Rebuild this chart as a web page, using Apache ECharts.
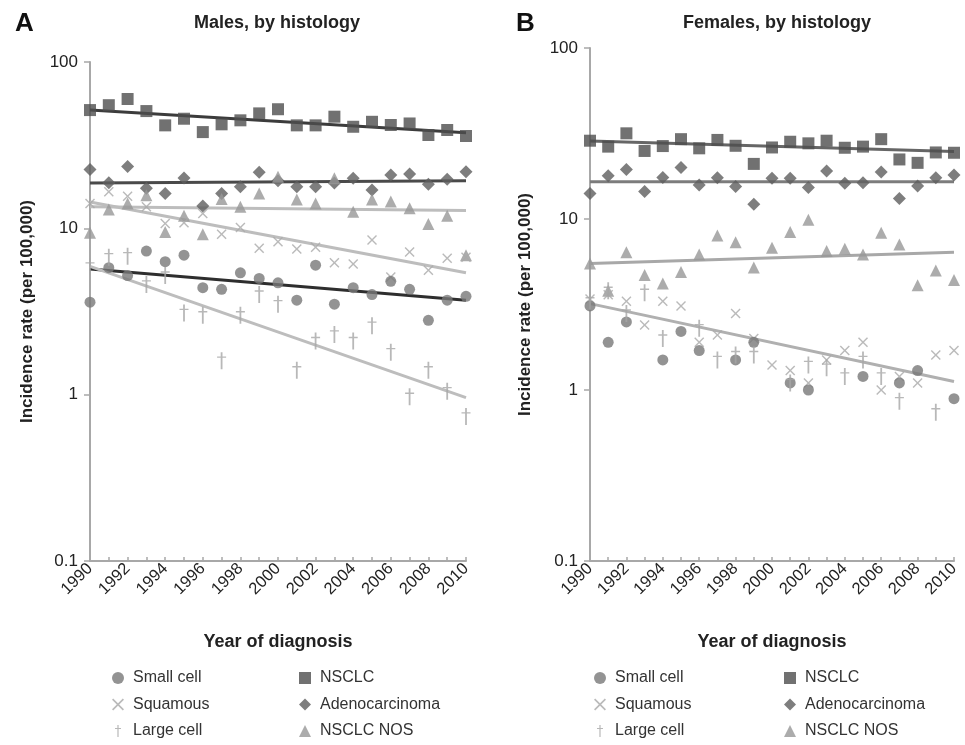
<!DOCTYPE html>
<html>
<head>
<meta charset="utf-8">
<script src="https://cdn.jsdelivr.net/npm/echarts@6/dist/echarts.min.js"></script>
<style>
html,body{margin:0;padding:0;background:#fff;}
#main{width:965px;height:745px;}
</style>
</head>
<body>
<div id="main"></div>
<script>
// ---- data ----
var years = [1990,1991,1992,1993,1994,1995,1996,1997,1998,1999,2000,2001,2002,2003,2004,2005,2006,2007,2008,2009,2010];
var xTickLabels = ['1990','1992','1994','1996','1998','2000','2002','2004','2006','2008','2010'];
var yTickLabels = ['0.1','1','10','100'];

// Males
var maleSmall    = [3.6,5.8,5.2,7.3,6.3,6.9,4.4,4.3,5.4,5.0,4.7,3.7,6.0,3.5,4.4,4.0,4.8,4.3,2.8,3.7,3.9];
var maleSquamous = [14.1,16.6,15.6,13.5,10.7,10.8,12.3,9.2,10.1,7.6,8.3,7.5,7.7,6.2,6.1,8.5,5.1,7.2,5.6,6.6,6.7];
var maleLarge    = [5.9,6.7,6.8,4.6,5.2,3.1,3.0,1.6,3.0,4.0,3.5,1.4,2.1,2.3,2.1,2.6,1.8,0.97,1.4,1.05,0.74];
var maleNSCLC    = [51.4,55,59.9,50.7,41.6,45.6,37.9,42.2,44.6,49.1,52.0,41.6,41.6,46.9,40.8,43.7,41.8,42.7,36.4,39.0,35.9];
var maleAdeno    = [22.6,18.8,23.5,17.4,16.2,20.1,13.6,16.2,17.8,21.7,19.3,17.8,17.8,18.7,20.0,17.0,20.9,21.2,18.4,19.7,21.9];
var maleNOS      = [9.4,13.0,14.1,15.8,9.5,11.9,9.2,15.0,13.5,16.2,20.4,14.9,14.1,20.0,12.6,14.9,14.5,13.2,10.6,11.9,6.9];
// Male trendlines [value at 1990, value at 2010]
var maleTrendNSCLC    = [51.4,37.6];
var maleTrendAdeno    = [18.7,19.3];
var maleTrendNOS      = [13.5,12.8];
var maleTrendSquamous = [14.4,5.4];
var maleTrendSmall    = [5.7,3.7];
var maleTrendLarge    = [5.9,0.96];

// Females
var femSmall    = [3.1,1.9,2.5,null,1.5,2.2,1.7,null,1.5,1.9,null,1.1,1.0,null,null,1.2,null,1.1,1.3,null,0.89];
var femSquamous = [3.4,3.6,3.3,2.4,3.3,3.1,1.9,2.1,2.8,2.0,1.4,1.3,1.1,1.5,1.7,1.9,1.0,1.2,1.1,1.6,1.7];
var femLarge    = [3.3,3.8,2.8,3.7,2.0,null,2.3,1.5,1.6,1.6,null,1.1,1.4,1.35,1.2,1.5,1.2,0.86,null,0.74,null];
var femNSCLC    = [28.7,26.5,31.7,25.0,26.7,29.3,25.9,29.0,26.8,21.0,26.2,28.3,27.7,28.7,26.1,26.5,29.3,22.3,21.3,24.5,24.4];
var femAdeno    = [14.1,17.9,19.5,14.5,17.5,20.0,15.8,17.4,15.5,12.2,17.3,17.3,15.3,19.1,16.2,16.3,18.8,13.2,15.6,17.4,18.1];
var femNOS      = [5.5,3.8,6.4,4.7,4.2,4.9,6.2,8.0,7.3,5.2,6.8,8.4,9.9,6.5,6.7,6.2,8.3,7.1,4.1,5.0,4.4];
var femTrendNSCLC = [28.6,24.8];
var femTrendAdeno = [16.5,16.5];
var femTrendNOS   = [5.5,6.4];
var femTrendLow   = [3.2,1.12];

// ---- styling ----
var FONT = 'Liberation Sans, Arial, sans-serif';
var SYM_X = 'path://M0,1 L1,0 L5,4 L9,0 L10,1 L6,5 L10,9 L9,10 L5,6 L1,10 L0,9 L4,5 Z';
var SYM_DAGGER = 'path://M4,0 L6,0 L6,5 L10,5 L10,6.6 L6,6.6 L6,20 L4,20 L4,6.6 L0,6.6 L0,5 L4,5 Z';
var markers = {
  'Small cell':     {symbol:'circle',   size:11, color:'#787878'},
  'Squamous':       {symbol:SYM_X,      size:10, color:'#a9a9a9'},
  'Large cell':     {symbol:SYM_DAGGER, size:[9,17], color:'#a6a6a6'},
  'NSCLC':          {symbol:'rect',     size:12, color:'#4d4d4d'},
  'Adenocarcinoma': {symbol:'diamond',  size:13, color:'#5e5e5e'},
  'NSCLC NOS':      {symbol:'triangle', size:12, color:'#979797'}
};

function pts(arr){
  var out = [];
  for (var i=0;i<years.length;i++){ if(arr[i]!=null) out.push([years[i], arr[i]]); }
  return out;
}
function scatter(name, arr, idx){
  var m = markers[name];
  return {type:'scatter', name:name, xAxisIndex:idx, yAxisIndex:idx, data:pts(arr),
    symbol:m.symbol, symbolSize:m.size, itemStyle:{color:m.color}, z:3, silent:true};
}
function trend(id, tr, idx, color){
  return {type:'line', name:id, xAxisIndex:idx, yAxisIndex:idx,
    data:[[years[0], tr[0]],[years[years.length-1], tr[1]]],
    symbol:'none', lineStyle:{color:color, width:3}, z:2, silent:true};
}

var series = [
  trend('mtN', maleTrendNSCLC, 0, '#3c3c3c'),
  trend('mtA', maleTrendAdeno, 0, '#4a4a4a'),
  trend('mtO', maleTrendNOS, 0, '#bdbdbd'),
  trend('mtS', maleTrendSquamous, 0, '#bdbdbd'),
  trend('mtC', maleTrendSmall, 0, '#2e2e2e'),
  trend('mtL', maleTrendLarge, 0, '#bdbdbd'),
  scatter('NSCLC', maleNSCLC, 0),
  scatter('Adenocarcinoma', maleAdeno, 0),
  scatter('NSCLC NOS', maleNOS, 0),
  scatter('Squamous', maleSquamous, 0),
  scatter('Small cell', maleSmall, 0),
  scatter('Large cell', maleLarge, 0),
  trend('ftN', femTrendNSCLC, 1, '#666666'),
  trend('ftA', femTrendAdeno, 1, '#7c7c7c'),
  trend('ftO', femTrendNOS, 1, '#a8a8a8'),
  trend('ftL', femTrendLow, 1, '#b0b0b0'),
  scatter('NSCLC', femNSCLC, 1),
  scatter('Adenocarcinoma', femAdeno, 1),
  scatter('NSCLC NOS', femNOS, 1),
  scatter('Squamous', femSquamous, 1),
  scatter('Small cell', femSmall, 1),
  scatter('Large cell', femLarge, 1)
];

function xAxis(idx){
  return {type:'value', gridIndex:idx, min:1990, max:2010, interval:2,
    name:'Year of diagnosis', nameLocation:'middle', nameGap:72,
    nameTextStyle:{fontFamily:FONT, fontSize:18, fontWeight:'bold', color:'#222'},
    axisLine:{lineStyle:{color:'#a8a8a8', width:2}},
    axisTick:{show:true, inside:true, length:4, lineStyle:{color:'#a8a8a8', width:1.5}},
    minorTick:{show:true, splitNumber:2, length:4, lineStyle:{color:'#a8a8a8', width:1.5}},
    splitLine:{show:false},
    axisLabel:{rotate:45, fontFamily:FONT, fontSize:16.5, color:'#222', margin:5,
      formatter:function(v){ var s=String(v); return xTickLabels.indexOf(s)>=0 ? s : ''; }}
  };
}
function yAxis(idx, gap){
  return {type:'log', logBase:10, gridIndex:idx, min:0.1, max:100,
    name:'Incidence rate (per 100,000)', nameLocation:'middle', nameGap:gap, nameRotate:90,
    nameTextStyle:{fontFamily:FONT, fontSize:17, fontWeight:'bold', color:'#222'},
    axisLine:{show:true, lineStyle:{color:'#a8a8a8', width:2}},
    axisTick:{show:true, length:6, lineStyle:{color:'#a8a8a8', width:1.5}},
    splitLine:{show:false},
    axisLabel:{fontFamily:FONT, fontSize:17, color:'#222', margin:12,
      formatter:function(v){ var s = v<1 ? String(Math.round(v*10)/10) : String(Math.round(v)); return yTickLabels.indexOf(s)>=0 ? s : ''; }}
  };
}
function legend(left, top, names){
  return {left:left, top:top, height:80, orient:'vertical', data:names, itemWidth:12, itemHeight:12,
    itemGap:10.5, selectedMode:false, padding:0,
    textStyle:{fontFamily:FONT, fontSize:16, color:'#333', padding:[0,0,0,4]}};
}

var option = {
  backgroundColor:'#ffffff',
  animation:false,
  title:[
    {text:'A', left:10, top:6, textStyle:{fontFamily:FONT, fontSize:26, fontWeight:'bold', color:'#111'}},
    {text:'Males, by histology', left:272, top:9, textAlign:'center', textStyle:{fontFamily:FONT, fontSize:18, fontWeight:'bold', color:'#222'}},
    {text:'B', left:511, top:6, textStyle:{fontFamily:FONT, fontSize:26, fontWeight:'bold', color:'#111'}},
    {text:'Females, by histology', left:772, top:9, textAlign:'center', textStyle:{fontFamily:FONT, fontSize:18, fontWeight:'bold', color:'#222'}}
  ],
  grid:[
    {left:90, top:62, width:376, height:499},
    {left:590, top:48, width:364, height:513}
  ],
  xAxis:[xAxis(0), xAxis(1)],
  yAxis:[yAxis(0,54), yAxis(1,56)],
  legend:[
    legend(112, 670, ['Small cell','Squamous','Large cell']),
    legend(299, 670, ['NSCLC','Adenocarcinoma','NSCLC NOS']),
    legend(594, 670, ['Small cell','Squamous','Large cell']),
    legend(784, 670, ['NSCLC','Adenocarcinoma','NSCLC NOS'])
  ],
  series:series
};
var chart = echarts.init(document.getElementById('main'), null, {renderer:'canvas'});
chart.setOption(option);
</script>
</body>
</html>
